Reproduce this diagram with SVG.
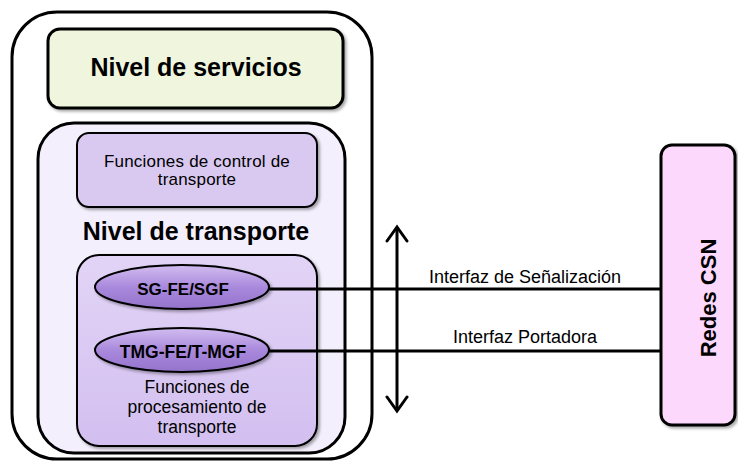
<svg xmlns="http://www.w3.org/2000/svg" width="738" height="462" viewBox="0 0 738 462">
<style>
.b{stroke:#000;stroke-width:3}
.t{font-family:"Liberation Sans",Arial,sans-serif;fill:#000;text-anchor:middle}
.bold{font-weight:bold}
.ln{stroke:#000;stroke-width:3;fill:none}
</style>
<defs>
<filter id="sh" x="-10%" y="-10%" width="130%" height="130%">
<feDropShadow dx="2" dy="2" stdDeviation="1.5" flood-color="#000" flood-opacity="0.35"/>
</filter>
<linearGradient id="ell" x1="0" y1="0" x2="0" y2="1">
<stop offset="0" stop-color="#d2bdf0"/>
<stop offset="0.5" stop-color="#a989dc"/>
<stop offset="1" stop-color="#9473cc"/>
</linearGradient>
<linearGradient id="proc" x1="0" y1="0" x2="0" y2="1">
<stop offset="0" stop-color="#e2d4f6"/>
<stop offset="1" stop-color="#d3bff0"/>
</linearGradient>
<marker id="ah" viewBox="0 0 22 24" refX="19" refY="12" markerWidth="22" markerHeight="24" markerUnits="userSpaceOnUse" orient="auto-start-reverse">
<path d="M5,2 L19,12 L5,22" fill="none" stroke="#000" stroke-width="3" stroke-linecap="round" stroke-linejoin="miter"/>
</marker>
</defs>

<g id="outer">
<rect x="12" y="12" width="360" height="447" rx="45" fill="#fff" class="b"/>
</g>

<g id="servicios">
<rect x="48" y="29" width="295" height="79" rx="12" fill="#eff6dd" class="b" filter="url(#sh)"/>
<text class="t bold" x="196" y="76" font-size="25">Nivel de servicios</text>
</g>

<g id="transporte">
<rect x="38" y="123" width="307" height="330" rx="36" fill="#f4effd" class="b"/>
<text class="t bold" x="196" y="240" font-size="25">Nivel de transporte</text>
</g>

<g id="control">
<rect x="77" y="133" width="240" height="74" rx="12" fill="#d9c9f1" stroke="#000" stroke-width="2" filter="url(#sh)"/>
<text class="t" x="197" y="167" font-size="17" letter-spacing="0.2">Funciones de control de</text>
<text class="t" x="197" y="185" font-size="17" letter-spacing="0.2">transporte</text>
</g>

<g id="procesamiento">
<rect x="77" y="255" width="240" height="191" rx="22" fill="url(#proc)" stroke="#000" stroke-width="2" filter="url(#sh)"/>
<text class="t" x="197" y="393" font-size="17.5">Funciones de</text>
<text class="t" x="197" y="413" font-size="17.5">procesamiento de</text>
<text class="t" x="197" y="433" font-size="17.5">transporte</text>
</g>

<g id="connectors">
<line class="ln" x1="268" y1="289" x2="662" y2="289"/>
<line class="ln" x1="268" y1="351" x2="662" y2="351"/>
<line class="ln" x1="397" y1="227" x2="397" y2="411" marker-start="url(#ah)" marker-end="url(#ah)"/>
<text class="t" x="525" y="283" font-size="18">Interfaz  de Señalización</text>
<text class="t" x="525" y="343" font-size="18">Interfaz Portadora</text>
</g>

<g id="sgfe">
<ellipse cx="182" cy="287" rx="87" ry="22" fill="url(#ell)" stroke="#000" stroke-width="2" filter="url(#sh)"/>
<text class="t bold" x="183" y="295" font-size="17" fill="#1a1030">SG-FE/SGF</text>
</g>

<g id="tmgfe">
<ellipse cx="182" cy="350" rx="87" ry="22" fill="url(#ell)" stroke="#000" stroke-width="2" filter="url(#sh)"/>
<text class="t bold" x="183" y="358" font-size="17.5" fill="#1a1030">TMG-FE/T-MGF</text>
</g>

<g id="redes">
<rect x="661" y="145" width="74" height="280" rx="11" fill="#fcd9fc" class="b" filter="url(#sh)"/>
<text class="t bold" x="0" y="0" font-size="22" transform="translate(716,298) rotate(-90)">Redes CSN</text>
</g>
</svg>
